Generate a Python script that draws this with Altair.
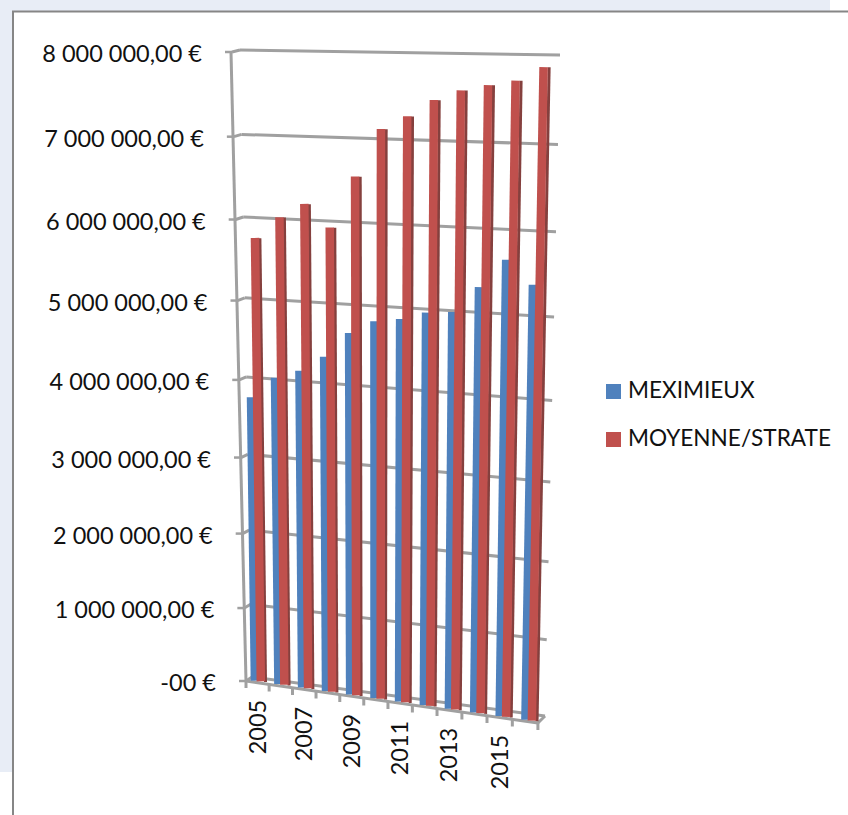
import numpy as np
import pandas as pd
import altair as alt

# Chart values
years = list(range(2005, 2017))
meximieux = [3.74e6, 4.015e6, 4.13e6, 4.33e6, 4.65e6, 4.82e6, 4.87e6, 4.97e6, 5.0e6, 5.32e6, 5.665e6, 5.39e6]
moyenne = [5.745e6, 6.015e6, 6.195e6, 5.925e6, 6.555e6, 7.13e6, 7.29e6, 7.49e6, 7.61e6, 7.68e6, 7.74e6, 7.90e6]
tick_values = [0, 1e6, 2e6, 3e6, 4e6, 5e6, 6e6, 7e6, 8e6]
tick_labels = ["-00 €", "1 000 000,00 €", "2 000 000,00 €", "3 000 000,00 €", "4 000 000,00 €",
               "5 000 000,00 €", "6 000 000,00 €", "7 000 000,00 €", "8 000 000,00 €"]
label_years = [2005, 2007, 2009, 2011, 2013, 2015]
series_names = ["MEXIMIEUX", "MOYENNE/STRATE"]

BLUE = "#4F81BD"
RED = "#C0504D"
RED_SIDE = "#85403E"
GREY = "#A0A0A0"
FONT = "Lato"


def homography(src, dst):
    """Plane-to-plane perspective transform from four point pairs."""
    rows, rhs = [], []
    for (a, b), (x, y) in zip(src, dst):
        rows.append([a, b, 1, 0, 0, 0, -a * x, -b * x])
        rows.append([0, 0, 0, a, b, 1, -a * y, -b * y])
        rhs += [x, y]
    h = np.linalg.solve(np.array(rows, float), np.array(rhs, float))

    def project(a, b):
        w = h[6] * a + h[7] * b + 1
        return (h[0] * a + h[1] * b + h[2]) / w, (h[3] * a + h[4] * b + h[5]) / w

    return project


# (category position, value in millions) onto the sloping back wall and the bar plane
wall = homography([(0, 0), (12, 0), (0, 8), (12, 8)], [(252, 677), (545, 716), (240, 50), (560, 55)])
bars = homography([(0, 0), (11, 0), (0, 8), (11, 8)], [(251, 680), (521, 719), (242, 51), (532, 58)])


def front_x(t):
    return 246 + 23.03 * t / (1 - 0.00444 * t)


def front_y(t):
    return 681 + 3.5 * t


def bar_rows(values, offset):
    rows = []
    for i, v in enumerate(values):
        x1, y1 = bars(i + offset, v / 1e6)
        x0, y0 = bars(i + offset, 0)
        rows.append({"x": x1, "y": y1, "x2": x0, "y2": y0})
    return pd.DataFrame(rows)


x_scale = alt.Scale(domain=[0, 848], range=[0, 848], nice=False, zero=False)
y_scale = alt.Scale(domain=[0, 815], range=[0, 815], nice=False, zero=False)


def segments(frame, **mark):
    return alt.Chart(frame).mark_rule(strokeCap="butt", **mark).encode(
        x=alt.X("x:Q", scale=x_scale, axis=None),
        y=alt.Y("y:Q", scale=y_scale, axis=None),
        x2="x2:Q",
        y2="y2:Q",
    )


def labels(frame, **mark):
    return alt.Chart(frame).mark_text(font=FONT, color="#111111", **mark).encode(
        x=alt.X("x:Q", scale=x_scale, axis=None),
        y=alt.Y("y:Q", scale=y_scale, axis=None),
        text="label:N",
    )


# Value gridlines: tick, short run across the side wall, then the back wall
grid_rows, tick_rows, value_label_rows = [], [], []
for v, lab in zip(tick_values, tick_labels):
    m = v / 1e6
    xl, yl = wall(0, m)
    xr, yr = wall(12, m)
    fx = xl - 8 + 2 * (1 - m / 8) * 1.0
    fy = yl + 2 + 2 * (1 - m / 8)
    grid_rows.append({"x": xl, "y": yl, "x2": xr, "y2": yr})
    grid_rows.append({"x": fx, "y": fy, "x2": xl, "y2": yl})
    tick_rows.append({"x": fx - 7, "y": fy, "x2": fx, "y2": fy})
    value_label_rows.append({"x": fx - 30, "y": fy + 3, "label": lab})

# Floor outline and the category ticks under its front edge
floor_rows = [
    {"x": front_x(0), "y": front_y(0), "x2": front_x(12), "y2": front_y(12)},
    {"x": front_x(12), "y": front_y(12), "x2": wall(12, 0)[0], "y2": wall(12, 0)[1]},
    {"x": 231, "y": 52, "x2": front_x(0), "y2": front_y(0)},
]
for t in range(13):
    floor_rows.append({"x": front_x(t), "y": front_y(t), "x2": front_x(t), "y2": front_y(t) + 7})

year_label_rows = []
for y in label_years:
    t = y - 2005 + 0.5
    year_label_rows.append({"x": front_x(t) + 1, "y": front_y(t) + 17, "label": str(y)})

# Page backdrop and the framed chart area
backdrop = alt.Chart(pd.DataFrame({"k": [0]})).mark_rect(color="#E8EDF6").encode(
    x=alt.value(0), x2=alt.value(830), y=alt.value(0), y2=alt.value(772))
panel = alt.Chart(pd.DataFrame({"k": [0]})).mark_rect(color="#FFFFFF", stroke="#868686", strokeWidth=2).encode(
    x=alt.value(13), x2=alt.value(860), y=alt.value(11.5), y2=alt.value(830))

# Legend entries
legend_keys = pd.DataFrame({"x": [613.5, 613.5], "y": [391.5, 439.5], "name": series_names})
legend_marks = alt.Chart(legend_keys).mark_square(size=225, opacity=1).encode(
    x=alt.X("x:Q", scale=x_scale, axis=None),
    y=alt.Y("y:Q", scale=y_scale, axis=None),
    color=alt.Color("name:N", scale=alt.Scale(domain=series_names, range=[BLUE, RED]), legend=None),
)
legend_text = labels(
    pd.DataFrame({"x": [628, 628], "y": [391, 439], "label": series_names}),
    align="left", baseline="middle", fontSize=22.6,
)

chart = alt.layer(
    backdrop,
    panel,
    segments(pd.DataFrame(grid_rows), color=GREY, strokeWidth=3),
    segments(pd.DataFrame(tick_rows), color=GREY, strokeWidth=2.5),
    segments(pd.DataFrame(floor_rows), color=GREY, strokeWidth=3),
    segments(bar_rows(meximieux, 0.2), color=BLUE, strokeWidth=10),
    segments(bar_rows(moyenne, 0.62), color=RED_SIDE, strokeWidth=3),
    segments(bar_rows(moyenne, 0.42), color=RED, strokeWidth=8.5),
    labels(pd.DataFrame(value_label_rows), align="right", baseline="middle", fontSize=23.5),
    labels(pd.DataFrame(year_label_rows), align="right", baseline="middle", fontSize=23.5, angle=270),
    legend_marks,
    legend_text,
).properties(
    width=848,
    height=815,
    padding=0,
    autosize=alt.AutoSizeParams(type="none"),
    background="#FFFFFF",
).configure_view(stroke=None)

chart.save("out.html", embed_options={"renderer": "svg", "actions": False})
